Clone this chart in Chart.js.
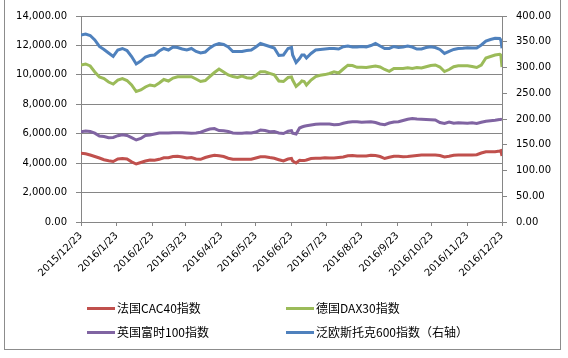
<!DOCTYPE html>
<html>
<head>
<meta charset="utf-8">
<script src="https://cdn.jsdelivr.net/npm/chart.js@4/dist/chart.umd.min.js"></script>
<style>
  html, body { margin: 0; padding: 0; background: #fff; }
  #wrap { position: relative; width: 568px; height: 358px; overflow: hidden; background: #fff; }
  #c { position: absolute; left: 0; top: 0; }
  #frame { position: absolute; left: 4px; top: -2px; width: 557px; height: 352px; border: 1px solid #8c8c8c; box-sizing: border-box; }
  .lg { position: absolute; font-family: "Noto Sans CJK SC", "Noto Sans", sans-serif; font-size: 12px; color: #000; line-height: 14px; white-space: nowrap; }
  .lg i { position: absolute; left: 0; top: 6px; width: 28px; height: 3px; }
  .lg span { position: absolute; left: 30px; top: 0; }
</style>
</head>
<body>
<div id="wrap">
  <canvas id="c" width="568" height="358"></canvas>
  <div id="frame"></div>
  <div id="legend"></div>
</div>
<script>
// ---- data ----
const baseDate = '2015-12-23';
const days = [0,4,8,12,16,20,24,28,32,36,40,44,48,52,56,60,64,68,72,76,80,84,88,92,96,100,104,108,112,116,120,124,128,132,136,140,144,148,152,156,160,164,168,172,176,180,183,184,187,190,192,194,196,200,204,208,212,216,220,224,228,232,236,240,244,248,252,256,260,264,268,272,276,280,284,288,292,296,300,304,308,312,316,320,324,328,332,336,340,344,348,352,356,360,364,365,366];

const cac40 = [4669,4642,4553,4451,4349,4234,4159,4112,4281,4315,4281,4091,3942,4044,4146,4214,4193,4261,4363,4363,4451,4472,4417,4349,4383,4281,4261,4383,4472,4540,4499,4451,4336,4261,4261,4261,4261,4261,4349,4438,4438,4377,4329,4234,4146,4281,
  4322,4146,4010,4193,4180,4173,4214,
  4315,4329,4336,4363,4349,4349,4390,4417,4506,4519,4485,4485,4485,4533,4519,4451,4315,4404,4472,4465,4438,4445,4479,4519,4553,4553,4553,4553,4519,4417,4465,4540,4553,4553,4553,4553,4574,4689,4778,4778,4778,4825,
  4846,4485];

const dax30 = [10670,10738,10602,10194,9854,9752,9514,9378,9650,9752,9616,9311,8869,8971,9175,9311,9243,9446,9684,9582,9786,9875,9875,9875,9875,9718,9548,9616,9888,10160,10398,10194,9990,9888,9820,9922,9807,9773,9956,10214,10214,10106,10004,9582,9548,9820,
  9854,9650,9209,9413,9582,9548,9311,
  9650,9888,9970,10017,10092,10208,10126,10398,10656,10636,10513,10513,10500,10554,10602,10534,10364,10242,10432,10432,10432,10486,10432,10500,10466,10554,10636,10670,10534,10228,10364,10554,10615,10622,10622,10568,10500,10670,11145,11247,11349,11397,
  11349,10534];

const ftse100 = [6137,6184,6150,6035,5845,5811,5729,5743,5865,5933,5879,5729,5573,5675,5879,5913,5980,6048,6048,6048,6069,6069,6069,6048,6028,6055,6103,6218,6320,6354,6218,6205,6150,6048,6028,6028,6062,6048,6116,6252,6218,6130,6150,6048,6014,6164,
  6205,6028,5980,6388,6456,6504,6538,
  6592,6647,6660,6660,6660,6612,6619,6708,6776,6816,6816,6782,6796,6810,6762,6660,6612,6728,6796,6816,6898,6979,7034,6993,6979,6966,6946,6932,6762,6694,6796,6708,6742,6735,6714,6742,6694,6776,6850,6884,6912,6959,
  6973,6932];

const stoxx600 = [363.1,365.0,362.1,353.4,340.8,335.0,328.1,321.4,334.0,336.9,333.0,321.4,306.8,312.6,320.4,323.3,324.3,332.0,336.9,334.0,339.8,338.8,335.9,334.0,336.9,331.1,328.1,330.1,337.9,343.7,346.6,344.7,339.8,331.1,331.1,331.1,333.0,334.0,339.8,346.6,343.7,340.8,337.9,323.3,324.3,336.9,
  338.8,324.3,309.7,317.5,324.3,324.3,318.4,
  327.2,334.0,335.0,335.9,336.9,336.9,335.9,340.4,341.7,339.8,339.8,340.8,339.8,342.7,346.6,341.7,336.9,336.9,340.8,338.8,339.8,341.7,339.8,335.9,335.9,338.8,340.4,338.8,335.0,327.2,331.1,335.0,336.9,337.5,338.4,337.9,337.9,343.7,351.4,354.4,356.7,356.3,
  353.4,337.5];

const tickLabels = ['2015/12/23','2016/1/23','2016/2/23','2016/3/23','2016/4/23','2016/5/23','2016/6/23','2016/7/23','2016/8/23','2016/9/23','2016/10/23','2016/11/23','2016/12/23'];
const seriesNames = ['法国CAC40指数','德国DAX30指数','英国富时100指数','泛欧斯托克600指数（右轴）'];
const seriesColors = ['#C0504D','#9BBB59','#8064A2','#4F81BD'];

// ---- helpers ----
function dayOffset(label) {
  const p = label.split('/').map(Number);
  const b = baseDate.split('-').map(Number);
  return Math.round((Date.UTC(p[0], p[1]-1, p[2]) - Date.UTC(b[0], b[1]-1, b[2])) / 86400000);
}
const tickDays = tickLabels.map(dayOffset);
function fmt(v) {
  const s = Math.abs(v).toFixed(2);
  const [i, d] = s.split('.');
  return i.replace(/\B(?=(\d{3})+(?!\d))/g, ',') + '.' + d;
}
function pts(arr) { return arr.map((v, i) => ({ x: days[i], y: v })); }

const grey = '#868686';
const tickFont = { family: 'DejaVu Sans', size: 10 };

const seriesData = [cac40, dax30, ftse100, stoxx600];
const datasets = seriesData.map((arr, i) => ({
  label: seriesNames[i],
  data: pts(arr),
  borderColor: seriesColors[i],
  backgroundColor: seriesColors[i],
  borderWidth: 3,
  pointRadius: 0,
  tension: 0,
  yAxisID: i === 3 ? 'y1' : 'y'
}));

new Chart(document.getElementById('c'), {
  type: 'line',
  data: { datasets },
  options: {
    responsive: false,
    animation: false,
    events: [],
    layout: { padding: { top: 16, left: 0, right: 0, bottom: 66 } },
    plugins: { legend: { display: false }, tooltip: { enabled: false } },
    scales: {
      x: {
        type: 'linear', min: 0, max: 366,
        afterBuildTicks: s => { s.ticks = tickDays.map(v => ({ value: v })); },
        afterFit: s => { s.height = 70; },
        ticks: {
          autoSkip: false, maxRotation: 45, minRotation: 45,
          font: tickFont, color: '#000', padding: 4,
          callback: v => { const k = tickDays.indexOf(v); return k >= 0 ? tickLabels[k] : ''; }
        },
        grid: { drawOnChartArea: false, drawTicks: true, tickLength: 4, color: grey },
        border: { color: grey }
      },
      y: {
        position: 'left', min: 0, max: 14000,
        afterFit: s => { s.width = 81; },
        ticks: { stepSize: 2000, font: tickFont, color: '#000', padding: 9, callback: v => fmt(v) },
        grid: { color: grey, tickLength: 5 },
        border: { color: grey }
      },
      y1: {
        position: 'right', min: 0, max: 400,
        afterFit: s => { s.width = 66; },
        ticks: { stepSize: 50, font: tickFont, color: '#000', padding: 9, callback: v => fmt(v) },
        grid: { drawOnChartArea: false, tickLength: 5, color: grey },
        border: { color: grey }
      }
    }
  }
});

// ---- legend (HTML text) ----
const lgPos = [[87, 301], [286, 301], [87, 325], [286, 325]];
const lg = document.getElementById('legend');
seriesNames.forEach((n, i) => {
  const d = document.createElement('div');
  d.className = 'lg';
  d.style.left = lgPos[i][0] + 'px';
  d.style.top = lgPos[i][1] + 'px';
  d.innerHTML = '<i style="background:' + seriesColors[i] + '"></i><span></span>';
  d.querySelector('span').textContent = n;
  lg.appendChild(d);
});
</script>
</body>
</html>
